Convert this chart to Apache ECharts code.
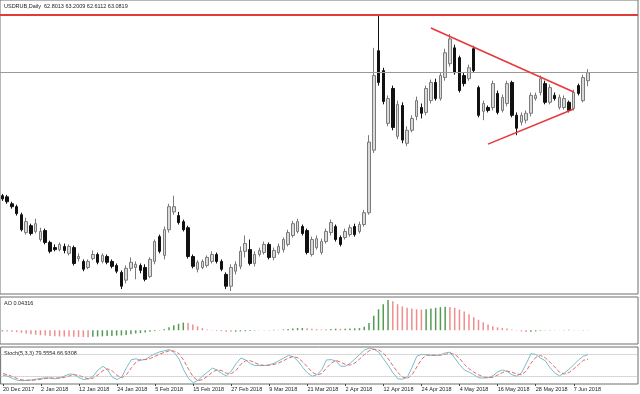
<!DOCTYPE html>
<html><head><meta charset="utf-8">
<script src="https://cdn.jsdelivr.net/npm/echarts@6/dist/echarts.min.js"></script>
<style>html,body{margin:0;padding:0;background:#fff}#c{width:640px;height:394px}</style>
</head><body><div id="c"></div>
<script>
const symbolTitle = 'USDRUB,Daily  62.8013 63.2009 62.6112 63.0819';
const aoTitle = 'AO 0.04316';
const stochTitle = 'Stoch(5,3,3) 79.5554 66.9308';
const tickLabels = ['20 Dec 2017','2 Jan 2018','12 Jan 2018','24 Jan 2018','5 Feb 2018','15 Feb 2018','27 Feb 2018','9 Mar 2018','21 Mar 2018','2 Apr 2018','12 Apr 2018','24 Apr 2018','4 May 2018','16 May 2018','28 May 2018','7 Jun 2018'];
const barsPerLabel = 8;
const emptyBarsRight = 10;

const opens = [58.81,58.77,58.53,58.43,58.15,57.53,57.77,57.57,57.29,57.60,
57.19,57.01,56.94,57.05,56.81,57.01,56.63,56.53,56.32,56.63,
56.77,56.53,56.70,56.53,56.39,56.15,55.88,56.29,56.32,56.39,
56.32,56.01,56.53,57.39,56.74,57.63,58.25,58.12,57.91,57.70,
56.70,56.26,56.32,56.39,56.53,56.77,56.53,56.08,55.67,56.19,
56.36,56.88,56.94,56.46,56.77,56.84,57.12,56.67,56.84,56.94,
57.12,57.43,57.57,57.74,57.60,56.77,57.01,56.84,57.22,57.53,
57.74,57.36,57.36,57.46,57.74,57.57,57.81,58.22,60.39,63.84,
63.15,61.32,62.53,60.87,61.94,60.63,61.08,61.56,61.87,61.70,
62.11,62.74,62.18,62.91,63.39,63.94,63.60,62.98,62.87,63.91,
62.56,61.74,61.87,61.87,62.36,61.77,62.01,62.74,61.60,61.36,
61.43,61.67,62.18,62.39,62.70,62.05,62.29,61.87,61.87,62.05,
61.84,62.63,62.11,62.80];
const closes = [58.70,58.60,58.43,58.19,57.63,57.91,57.50,57.84,57.57,57.19,
56.88,56.94,57.12,56.91,57.05,56.46,56.70,56.26,56.53,56.77,
56.50,56.74,56.50,56.36,56.19,55.67,56.29,56.50,56.43,56.22,
55.91,56.60,57.22,56.88,57.63,58.43,58.43,57.88,57.63,56.70,
56.36,56.50,56.53,56.67,56.77,56.53,56.26,55.67,56.32,56.43,
56.88,57.15,56.46,56.77,56.91,57.12,56.67,56.91,57.05,57.29,
57.53,57.84,57.91,57.50,56.84,57.29,57.32,57.22,57.57,57.88,
57.29,57.12,57.57,57.70,57.46,57.81,58.22,60.67,62.98,62.74,
62.08,62.18,61.18,61.98,60.74,61.08,61.49,62.11,61.67,62.53,
62.74,62.18,62.98,63.77,64.25,63.08,62.46,62.70,63.25,63.15,
61.60,62.01,61.77,62.70,61.70,62.22,62.70,61.60,61.15,61.60,
61.67,62.29,62.29,62.87,62.05,62.56,62.18,62.22,62.18,61.77,
62.39,62.36,62.91,63.08];
const highs = [58.87,58.84,58.60,58.50,58.22,58.05,57.84,58.01,57.70,57.67,
57.25,57.12,57.19,57.15,57.12,57.08,56.81,56.60,56.60,56.91,
56.84,56.81,56.77,56.60,56.46,56.22,56.39,56.67,56.53,56.46,
56.43,56.67,57.29,57.46,57.74,58.53,58.81,58.25,57.98,57.77,
56.77,56.57,56.60,56.74,56.88,56.84,56.60,56.15,56.43,56.53,
57.05,57.43,57.29,56.88,57.01,57.22,57.19,57.01,57.15,57.36,
57.63,57.94,58.01,57.81,57.67,57.39,57.43,57.32,57.67,57.98,
57.81,57.43,57.67,57.81,57.84,57.91,58.32,60.91,63.94,65.11,
63.25,62.29,62.63,62.11,62.05,61.22,61.60,62.25,62.01,62.63,
62.84,62.87,63.08,63.91,64.42,64.05,63.67,63.08,63.36,64.01,
62.63,62.11,61.94,62.80,62.46,62.32,62.80,62.80,61.70,61.70,
61.77,62.39,62.39,62.98,62.80,62.67,62.39,62.32,62.29,62.11,
62.49,62.70,63.01,63.20];
const lows = [58.63,58.53,58.36,58.12,57.57,57.46,57.43,57.50,57.22,57.12,
56.81,56.88,56.88,56.81,56.74,56.39,56.53,56.19,56.26,56.57,
56.43,56.46,56.43,56.29,56.12,55.57,55.77,56.19,55.91,56.12,
55.84,55.95,56.43,56.81,56.60,57.53,58.15,57.81,57.57,56.63,
56.29,56.15,56.26,56.32,56.46,56.46,56.19,55.57,55.50,56.08,
56.26,56.67,56.39,56.36,56.70,56.77,56.60,56.57,56.77,56.84,
57.05,57.36,57.50,57.43,56.77,56.70,56.94,56.77,57.15,57.43,
57.22,57.05,57.29,57.39,57.39,57.50,57.74,58.15,60.29,62.63,
61.98,61.22,61.08,60.77,60.63,60.53,61.01,61.43,61.49,61.60,
62.01,62.11,62.11,62.80,63.29,63.01,62.39,62.60,62.80,63.08,
61.53,61.43,61.70,61.77,61.63,61.70,61.91,61.53,60.91,61.25,
61.32,61.56,62.11,62.29,61.98,61.98,62.11,61.80,61.80,61.70,
61.77,62.29,62.05,62.61];

const aoValues = [-0.15,-0.18,-0.2,-0.25,-0.35,-0.45,-0.55,-0.62,-0.68,-0.72,
-0.78,-0.82,-0.85,-0.87,-0.88,-0.9,-0.92,-0.94,-0.95,-0.9,
-0.86,-0.84,-0.8,-0.78,-0.74,-0.72,-0.65,-0.55,-0.45,-0.38,
-0.3,-0.22,-0.12,0.05,0.15,0.4,0.7,0.9,1.05,1.0,
0.8,0.55,0.3,0.1,-0.05,-0.1,-0.15,-0.2,-0.22,-0.2,
-0.15,-0.12,-0.1,-0.05,-0.02,0.02,0.05,0.06,0.05,0.1,
0.18,0.25,0.3,0.32,0.28,0.22,0.15,0.1,0.12,0.18,
0.22,0.2,0.22,0.25,0.27,0.3,0.5,1.0,2.0,2.9,
3.6,4.2,4.0,3.6,3.3,3.1,3.0,2.9,2.85,2.9,
3.0,3.1,3.2,3.25,3.2,3.1,2.85,2.6,2.2,1.8,
1.45,1.1,0.8,0.55,0.4,0.3,0.25,0.1,-0.05,-0.15,
-0.25,-0.2,-0.15,-0.08,-0.05,-0.03,0.02,-0.02,0.05,0.06,
0.05,0.04,0.05,0.043];

const stochK = [24,21,15,10,9,10,11,13,15,17,16,14,17,22,27,26,17,12,14,22,
38,48,38,18,12,20,45,66,68,64,67,75,82,87,90,93,85,68,38,15,
3,10,22,32,43,38,28,22,35,55,70,65,55,50,50,50,52,56,63,70,
77,74,62,45,30,21,25,38,65,66,62,48,48,56,68,80,92,97,94,86,
68,50,30,14,13,18,45,75,80,79,77,77,79,84,86,70,52,38,32,25,
17,16,17,22,33,38,34,25,21,30,55,82,80,70,63,44,30,22,30,40,
52,65,75,79.56];
const stochD = [28,25,20,15,11,10,10,11,13,15,16,16,16,18,22,25,23,18,14,16,
25,36,41,35,23,17,26,44,60,66,66,69,75,81,86,90,89,82,64,40,
19,9,12,21,32,38,36,29,28,37,53,63,63,57,52,50,51,53,57,63,
70,74,71,60,46,32,25,28,43,56,64,59,53,51,57,68,80,90,94,92,
83,68,49,31,19,15,25,46,67,78,79,78,78,80,83,80,69,53,41,32,
25,19,17,18,24,31,35,32,27,25,35,56,72,77,71,59,46,32,27,31,
41,52,64,66.93];
const stochLevels = [20, 80];

const resistanceLevel = 65.1;
const bidPrice = 63.0819;
const triangleUpper = [[90.4, 64.63], [119.9, 62.41]];
const triangleLower = [[102.4, 60.60], [120.3, 61.82]];

// ---- build ----
const nBars = opens.length;
const nCats = nBars + emptyBarsRight;
const categories = [];
for (let i = 0; i < nCats; i++) {
  const k = i / barsPerLabel;
  categories.push(i % barsPerLabel === 0 && k < tickLabels.length ? tickLabels[k] : '');
}
const candleData = opens.map((o, i) => [o, closes[i], lows[i], highs[i]]);
const aoData = aoValues.map((v, i) => ({
  value: v,
  itemStyle: { color: (i === 0 || v >= aoValues[i - 1]) ? '#549c54' : '#ef8e8e' }
}));
const showLabel = (idx) => idx % barsPerLabel === 0 && idx / barsPerLabel < tickLabels.length;

const FONT = 'Liberation Sans';
const gridCommon = { left: 0, width: 638, show: true, borderColor: '#6e6e6e', borderWidth: 1, backgroundColor: '#fff' };
const hiddenX = (g) => ({ type: 'category', gridIndex: g, data: categories, boundaryGap: true,
  axisLine: { show: false }, axisTick: { show: false }, axisLabel: { show: false }, splitLine: { show: false } });
const hiddenY = (g, min, max) => ({ type: 'value', gridIndex: g, min, max, scale: true,
  axisLine: { show: false }, axisTick: { show: false }, axisLabel: { show: false }, splitLine: { show: false } });

const chart = echarts.init(document.getElementById('c'), null, { renderer: 'canvas' });
chart.setOption({
  animation: false,
  backgroundColor: '#fff',
  grid: [
    Object.assign({ top: 0, height: 294 }, gridCommon),
    Object.assign({ top: 297, height: 47 }, gridCommon),
    Object.assign({ top: 347, height: 37 }, gridCommon)
  ],
  xAxis: [hiddenX(0), hiddenX(1), {
    type: 'category', gridIndex: 2, data: categories, boundaryGap: true,
    axisLine: { show: false },
    axisTick: { show: true, interval: showLabel, alignWithLabel: true, length: 2, lineStyle: { color: '#444' } },
    axisLabel: { show: true, interval: showLabel, align: 'left', margin: 2, fontSize: 5.5, fontFamily: FONT, color: '#222' },
    splitLine: { show: false }
  }],
  yAxis: [hiddenY(0, 55.4, 65.6), hiddenY(1, -1.9, 4.6), hiddenY(2, 0, 100)],
  series: [
    {
      type: 'candlestick', xAxisIndex: 0, yAxisIndex: 0, data: candleData, barWidth: 3,
      itemStyle: { color: '#dadada', color0: '#111', borderColor: '#7a7a7a', borderColor0: '#111', borderWidth: 1 },
      markLine: {
        silent: true, symbol: 'none', label: { show: false },
        data: [
          { yAxis: resistanceLevel, lineStyle: { color: '#e03a3a', width: 2, type: 'solid' } },
          { yAxis: bidPrice, lineStyle: { color: '#9a9a9a', width: 1, type: 'solid' } },
          [{ coord: triangleUpper[0], lineStyle: { color: '#e8383c', width: 1.6, type: 'solid' } }, { coord: triangleUpper[1] }],
          [{ coord: triangleLower[0], lineStyle: { color: '#e8383c', width: 1.6, type: 'solid' } }, { coord: triangleLower[1] }]
        ]
      }
    },
    { type: 'bar', xAxisIndex: 1, yAxisIndex: 1, data: aoData, barWidth: 1.5 },
    {
      type: 'line', xAxisIndex: 2, yAxisIndex: 2, data: stochK, symbol: 'none',
      lineStyle: { color: '#78bccb', width: 1 },
      markLine: { silent: true, symbol: 'none', label: { show: false },
        lineStyle: { color: '#b0b0b0', width: 1, type: 'dotted' },
        data: stochLevels.map(v => ({ yAxis: v })) }
    },
    { type: 'line', xAxisIndex: 2, yAxisIndex: 2, data: stochD, symbol: 'none',
      lineStyle: { color: '#e06a6a', width: 1, type: 'dashed' } }
  ],
  graphic: [
    { type: 'text', left: 4, top: 3, style: { text: symbolTitle, fontSize: 5.5, fontFamily: FONT, fill: '#222' } },
    { type: 'text', left: 4, top: 300, style: { text: aoTitle, fontSize: 5.5, fontFamily: FONT, fill: '#222' } },
    { type: 'text', left: 4, top: 350, style: { text: stochTitle, fontSize: 5.5, fontFamily: FONT, fill: '#222' } }
  ]
});
</script></body></html>
